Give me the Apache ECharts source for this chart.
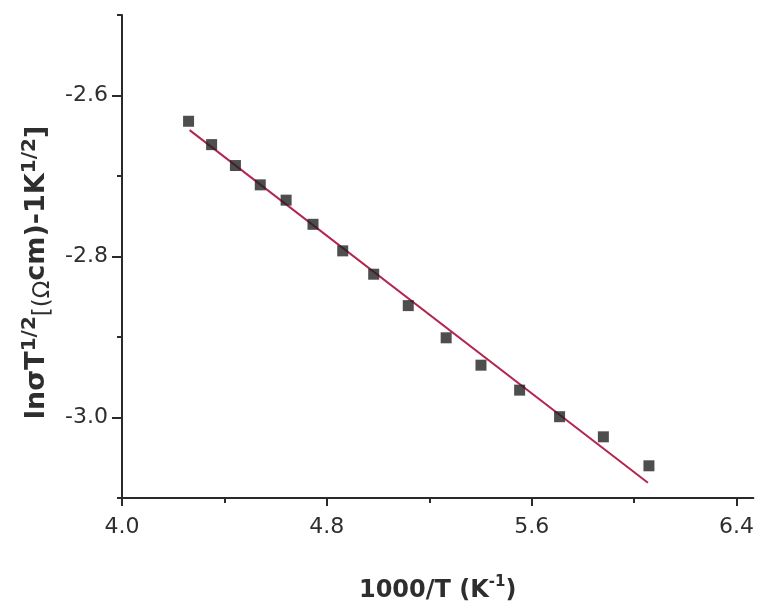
<!DOCTYPE html>
<html>
<head>
<meta charset="utf-8">
<script src="https://cdn.jsdelivr.net/npm/echarts@6/dist/echarts.min.js"></script>
<style>html,body{margin:0;padding:0;background:#fff;}#c{width:757px;height:608px;}</style>
</head>
<body>
<div id="c"></div>
<script>
// data
var xVals = [4.260, 4.350, 4.443, 4.540, 4.641, 4.746, 4.862, 4.983, 5.118, 5.266, 5.402, 5.553, 5.709, 5.880, 6.058];
var yVals = [-2.632, -2.661, -2.687, -2.711, -2.730, -2.760, -2.793, -2.822, -2.861, -2.901, -2.935, -2.966, -2.999, -3.024, -3.060];
var fitX = [4.264, 6.054];
var fitY = [-2.643, -3.081];
var xMajorTicks = [4.0, 4.8, 5.6, 6.4];
var xMinorTicks = [4.4, 5.2, 6.0];
var yMajorTicks = [-3.0, -2.8, -2.6];
var yMinorTicks = [-3.1, -2.9, -2.7, -2.5];

var pts = xVals.map(function (x, i) { return [x, yVals[i]]; });
var fit = fitX.map(function (x, i) { return [x, fitY[i]]; });

var FONT = 'DejaVu Sans';
var TXT = '#2e2e2e';
var AX = '#2a2a2a';

var chart = echarts.init(document.getElementById('c'), null, {renderer: 'canvas'});
chart.setOption({
  backgroundColor: '#ffffff',
  animation: false,
  grid: {left: 122, right: 0, top: 15, bottom: 109, containLabel: false},
  xAxis: [{
    type: 'value', min: 4.0, max: 6.466, interval: 0.8,
    axisLine: {show: true, lineStyle: {color: AX, width: 2}},
    axisTick: {show: true, length: 8, lineStyle: {color: AX, width: 2}, customValues: xMajorTicks},
    axisLabel: {show: true, customValues: xMajorTicks, margin: 18, color: TXT, fontFamily: FONT, fontSize: 22,
      formatter: function (v) { return v.toFixed(1); }},
    splitLine: {show: false},
    name: '{b|1000/T (K}{s|-1}{b|)}',
    nameLocation: 'middle', nameGap: 77,
    nameTextStyle: {
      rich: {
        b: {fontFamily: FONT, fontWeight: 'bold', fontSize: 24, color: TXT, lineHeight: 28, verticalAlign: 'bottom'},
        s: {fontFamily: FONT, fontWeight: 'bold', fontSize: 15, color: TXT, lineHeight: 28, verticalAlign: 'top'}
      }}
  }, {
    type: 'value', min: 4.0, max: 6.466, interval: 0.8, position: 'bottom',
    axisLine: {show: false},
    axisTick: {show: true, length: 5, lineStyle: {color: AX, width: 2}, customValues: xMinorTicks},
    axisLabel: {show: false}, splitLine: {show: false}
  }],
  yAxis: [{
    type: 'value', min: -3.1, max: -2.5, interval: 0.1,
    axisLine: {show: true, lineStyle: {color: AX, width: 2}},
    axisTick: {show: true, length: 10, lineStyle: {color: AX, width: 2}, customValues: yMajorTicks},
    axisLabel: {show: true, customValues: yMajorTicks, margin: 14, color: TXT, fontFamily: FONT, fontSize: 22,
      formatter: function (v) { return v.toFixed(1); }},
    splitLine: {show: false},
    name: '{b|ln\u03c3T}{s|1/2}{m|[(\u03a9}{b|cm)-1K}{s|1/2}{b|]}',
    nameLocation: 'middle', nameRotate: 90, nameGap: 53,
    nameTextStyle: {
      padding: [0, 32, 0, 0],
      rich: {
        b: {fontFamily: FONT, fontWeight: 'bold', fontSize: 27, color: TXT, lineHeight: 34, verticalAlign: 'middle'},
        s: {fontFamily: FONT, fontWeight: 'bold', fontSize: 20, color: TXT, lineHeight: 34, verticalAlign: 'top'},
        m: {fontFamily: FONT, fontWeight: 'normal', fontSize: 23, color: TXT, lineHeight: 34, verticalAlign: 'bottom'}
      }}
  }, {
    type: 'value', min: -3.1, max: -2.5, interval: 0.1, position: 'left',
    axisLine: {show: false},
    axisTick: {show: true, length: 5, lineStyle: {color: AX, width: 2}, customValues: yMinorTicks},
    axisLabel: {show: false}, splitLine: {show: false}
  }],
  series: [{
    type: 'line', data: fit, xAxisIndex: 0, yAxisIndex: 0,
    showSymbol: false, symbol: 'none',
    lineStyle: {color: '#b3264f', width: 2}, z: 2
  }, {
    type: 'scatter', data: pts, xAxisIndex: 0, yAxisIndex: 0,
    symbol: 'rect', symbolSize: 11,
    itemStyle: {color: '#222222'}, z: 3
  }]
});
</script>
</body>
</html>
